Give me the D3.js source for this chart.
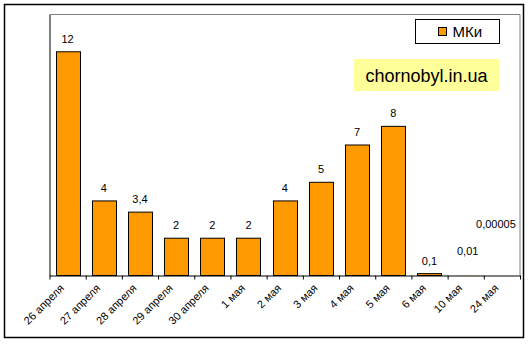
<!DOCTYPE html>
<html>
<head>
<meta charset="utf-8">
<script src="https://cdn.jsdelivr.net/npm/d3@7"></script>
<style>
  html, body { margin: 0; padding: 0; background: #fff; }
  svg { display: block; font-family: "Liberation Sans", Arial, sans-serif; }
</style>
</head>
<body>
<svg id="chart" width="529" height="344"></svg>
<script>
// Activity released per day, МКи
const categories = ["26 апреля", "27 апреля", "28 апреля", "29 апреля", "30 апреля",
                    "1 мая", "2 мая", "3 мая", "4 мая", "5 мая", "6 мая", "10 мая", "24 мая"];
const values = [12, 4, 3.4, 2, 2, 2, 4, 5, 7, 8, 0.1, 0.01, 0.00005];
const valueLabels = ["12", "4", "3,4", "2", "2", "2", "4", "5", "7", "8", "0,1", "0,01", "0,00005"];
const seriesName = "МКи";
const yDomain = [0, 14];

const svg = d3.select("#chart");
const orange = "#FF9900";

// chart frame
svg.append("rect")
  .attr("x", 4.5).attr("y", 4.5).attr("width", 519).attr("height", 333)
  .attr("fill", "#fff").attr("stroke", "#000").attr("stroke-width", 1.5);

const plot = { left: 49.5, right: 520, top: 14.5, bottom: 275.5 };

const x = d3.scaleBand()
  .domain(categories)
  .range([plot.left, plot.right])
  .paddingInner(1 / 3)
  .paddingOuter(1 / 6);

const y = d3.scaleLinear().domain(yDomain).range([plot.bottom, plot.top]);

// plot area border: top and right in grey
svg.append("path")
  .attr("d", `M${plot.left},${plot.top}H${plot.right}V${plot.bottom}`)
  .attr("fill", "none").attr("stroke", "#808080").attr("stroke-width", 1);

// bars; ones thinner than half a pixel collapse onto the axis and get no outline
svg.append("g").selectAll("rect")
  .data(values)
  .join("rect")
  .attr("x", (d, i) => Math.round(x(categories[i])) + 0.5)
  .attr("width", Math.round(x.bandwidth()))
  .attr("y", d => y(d))
  .attr("height", d => y(0) - y(d))
  .attr("fill", orange)
  .attr("stroke", d => (y(0) - y(d) < 0.5 ? "none" : "#000"))
  .attr("stroke-width", 1);

// value axis line (no ticks, no labels)
svg.append("g")
  .attr("transform", `translate(${plot.left},0)`)
  .call(d3.axisLeft(y).tickValues([]).tickSizeOuter(0))
  .call(g => g.select(".domain").attr("stroke", "#000"));

// category axis: ticks at category boundaries
const xb = d3.scaleLinear().domain([0, categories.length]).range([plot.left, plot.right]);
svg.append("g")
  .attr("transform", `translate(0,${plot.bottom})`)
  .call(d3.axisBottom(xb).tickValues(d3.range(categories.length + 1)).tickSize(4).tickSizeOuter(0).tickFormat(""))
  .call(g => g.selectAll("line, .domain").attr("stroke", "#000"));

// rotated category labels
svg.append("g").selectAll("text")
  .data(categories)
  .join("text")
  .attr("transform", d => `translate(${x(d) + x.bandwidth() / 2 - 5.5},${plot.bottom + 10.5}) rotate(-45)`)
  .attr("text-anchor", "end")
  .attr("dy", "0.35em")
  .attr("font-size", 11)
  .attr("fill", "#000")
  .text(d => d);

// value labels; the two smallest are lifted clear of the axis
const labelNudge = { "10 мая": [2, -11], "24 мая": [-6, -38] };
svg.append("g").selectAll("text")
  .data(values)
  .join("text")
  .attr("x", (d, i) => x(categories[i]) + x.bandwidth() / 2 + (labelNudge[categories[i]] || [0, 0])[0])
  .attr("y", (d, i) => y(d) - 9 + (labelNudge[categories[i]] || [0, 0])[1])
  .attr("text-anchor", "middle")
  .attr("font-size", 11)
  .attr("fill", "#000")
  .text((d, i) => valueLabels[i]);

// legend
const legend = svg.append("g");
legend.append("rect")
  .attr("x", 415.5).attr("y", 19.5).attr("width", 84).attr("height", 24)
  .attr("fill", "#fff").attr("stroke", "#000").attr("stroke-width", 1);
legend.append("rect")
  .attr("x", 438.5).attr("y", 27.5).attr("width", 8).attr("height", 8)
  .attr("fill", orange).attr("stroke", "#000").attr("stroke-width", 1);
legend.append("text")
  .attr("x", 452.5).attr("y", 37)
  .attr("font-size", 15)
  .attr("fill", "#000")
  .text(seriesName);

// site badge
svg.append("rect")
  .attr("x", 354).attr("y", 59).attr("width", 145).attr("height", 32)
  .attr("fill", "#FFFF99");
svg.append("text")
  .attr("x", 426.5).attr("y", 82)
  .attr("text-anchor", "middle")
  .attr("font-size", 18)
  .attr("fill", "#000")
  .text("chornobyl.in.ua");
</script>
</body>
</html>
